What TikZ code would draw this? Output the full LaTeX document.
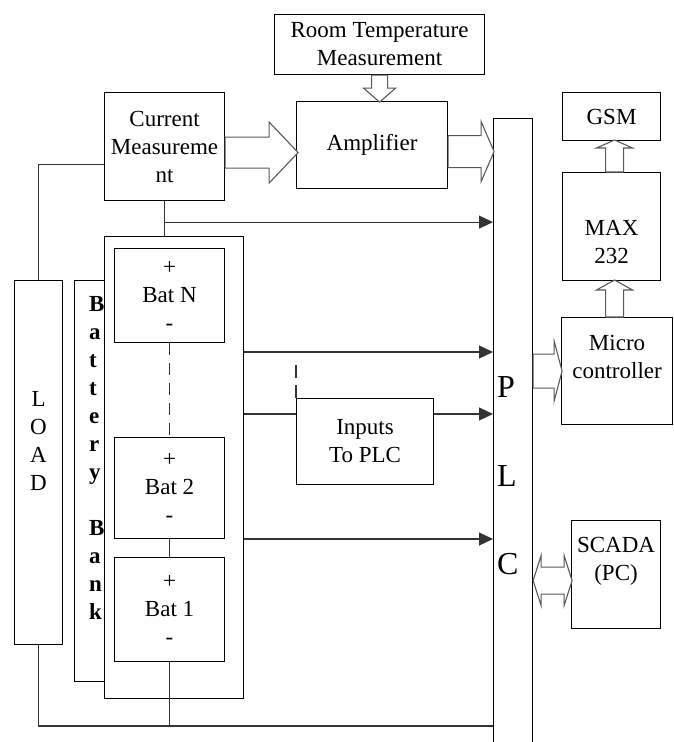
\documentclass[tikz,border=0pt]{standalone}
\usepackage{fontspec}
\setmainfont{Liberation Serif}
\usetikzlibrary{arrows.meta,calc}
\newcommand{\bodyfont}{\fontsize{23}{28}\selectfont}
\tikzset{
  box/.style={
    draw,
    line width=1.1pt,
    inner sep=2pt,
    align=center,
    font=\bodyfont,
    anchor=north west
  },
  txt/.style={
    align=center,
    font=\bodyfont
  },
  wire/.style={
    line width=1.1pt,
    draw=black!80
  },
  flow/.style={
    wire,
    -{Triangle[length=14pt,width=13pt]}
  },
  hollow/.style={
    draw=black!65,
    line width=1.1pt,
    fill=white
  }
}
% tail, direction, length, head length, shaft half width, head half width
\newcommand{\fatarrow}[6]{%
  \draw[hollow, shift={(#1)}, rotate=#2]
    (0,-#5) -- (#3-#4,-#5) -- (#3-#4,-#6) -- (#3,0) -- (#3-#4,#6) -- (#3-#4,#5) -- (0,#5) -- cycle;}
% tail, length, head length, shaft half width, head half width
\newcommand{\dblarrow}[5]{%
  \draw[hollow, shift={(#1)}]
    (0,0) -- (#3,-#5) -- (#3,-#4) -- (#2-#3,-#4) -- (#2-#3,-#5) -- (#2,0)
    -- (#2-#3,#5) -- (#2-#3,#4) -- (#3,#4) -- (#3,#5) -- cycle;}

\begin{document}
\begin{tikzpicture}[x=1pt, y=-1pt]
  \path[use as bounding box, clip] (0,0) rectangle (673,742);

  % measurement chain
  \node[box, minimum width=210pt, minimum height=60pt] (room) at (274,14) {Room Temperature\\Measurement};
  \node[box, minimum width=151pt, minimum height=87pt] (amp) at (296,101) {Amplifier};
  \node[box, minimum width=120pt, minimum height=108pt] (cm) at (104,92) {Current\\Measureme\\nt};

  % PLC bar
  \node[box, minimum width=39pt, minimum height=640pt] (plc) at (493,118) {};
  \node[anchor=west, inner sep=0, align=left, font=\fontsize{32}{88.5}\selectfont] (plctxt) at (497,476) {P\\L\\C};

  % right column
  \node[box, minimum width=98pt, minimum height=48pt] (gsm) at (562,92) {GSM};
  \node[box, minimum width=98pt, minimum height=108pt, label={[txt, yshift=-15pt]center:MAX\\232}] (max) at (562,172) {};
  \node[box, minimum width=111pt, minimum height=107pt, label={[txt, yshift=14pt]center:Micro\\controller}] (micro) at (561,317) {};
  \node[box, minimum width=89pt, minimum height=108pt, label={[txt, yshift=13pt]center:SCADA\\(PC)}] (scada) at (571,520) {};

  % load and battery bank
  \node[box, minimum width=48pt, minimum height=364pt, label={[txt, yshift=22pt]center:L\\O\\A\\D}] (load) at (14,280) {};
  \node[box, minimum width=40pt, minimum height=401pt] (bank) at (74,280) {};
  \node[anchor=west, inner sep=0, align=left, font=\bfseries\bodyfont] (banktxt) at (89,458) {B\\a\\t\\t\\e\\r\\y\\[28pt]B\\a\\n\\k};
  \node[box, fill=white, minimum width=139pt, minimum height=462pt] (bats) at (104,236) {};
  \node[box, minimum width=110pt, minimum height=94pt] (batN) at (114,248) {+\\Bat N\\-};
  \node[box, minimum width=110pt, minimum height=101pt] (bat2) at (114,437) {+\\Bat 2\\-};
  \node[box, minimum width=110pt, minimum height=104pt] (bat1) at (114,557) {+\\Bat 1\\-};
  \node[box, minimum width=137pt, minimum height=86pt] (inputs) at (296,398) {Inputs\\To PLC};

  % wiring
  \coordinate (tapA) at ($(cm.south)+(0,21)$);
  \coordinate (tapN) at (bats.east |- 0,352);
  \coordinate (tapI) at (bats.east |- 0,414);
  \coordinate (tap2) at (bats.east |- 0,539);
  \coordinate (gnd) at (plc.west |- 0,726);

  \draw[wire] (load.north) |- ($(cm.west)+(0,18)$);
  \draw[wire] (load.south) |- (gnd);
  \draw[wire] (cm.south) -- (cm.south |- bats.north);
  \draw[wire] (bat1.south) -- (bat1.south |- gnd);
  \draw[wire, dash pattern=on 12pt off 8pt] (batN.south) -- (bat2.north);
  \draw[wire] (bat2.south) -- (bat1.north);
  \draw[wire, dash pattern=on 13pt off 7pt] (inputs.north west) -- ++(0,-36);
  \draw[wire] (tapI) -- (tapI -| inputs.west);

  \draw[flow] (tapA) -- (tapA -| plc.west);
  \draw[flow] (tapN) -- (tapN -| plc.west);
  \draw[flow] (tapI -| inputs.east) -- (tapI -| plc.west);
  \draw[flow] (tap2) -- (tap2 -| plc.west);

  % block arrows
  \fatarrow{$(cm.east)+(0,6)$}{0}{73}{29}{15.5}{30.5}
  \fatarrow{$(amp.east)+(0,6.5)$}{0}{46}{13}{16}{30}
  \fatarrow{room.south}{-90}{27}{14}{8}{16}
  \fatarrow{$(max.north)+(3,0)$}{90}{32}{8}{9}{18}
  \fatarrow{$(micro.north)+(-2.5,0)$}{90}{37}{10}{9}{18}
  \fatarrow{plc.east |- micro.west}{0}{29}{8}{17}{30}
  \dblarrow{$(plc.east |- scada.west)+(0,6)$}{39}{8}{13.5}{25}
\end{tikzpicture}
\end{document}
